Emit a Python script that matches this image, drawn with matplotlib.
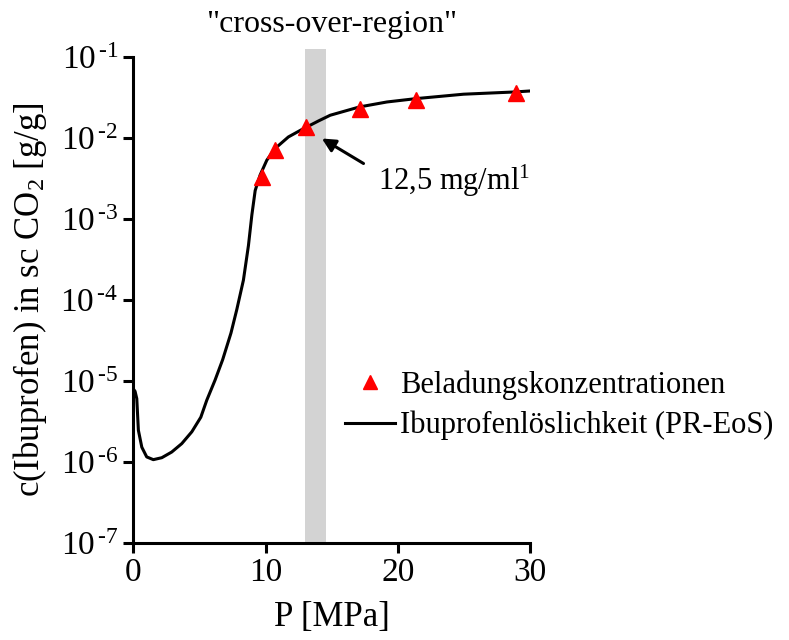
import numpy as np
import matplotlib.pyplot as plt
from matplotlib.ticker import FixedLocator, FuncFormatter

plt.rcParams['font.family'] = ['Liberation Serif', 'DejaVu Serif']
plt.rcParams['mathtext.fontset'] = 'custom'
plt.rcParams['mathtext.rm'] = 'Liberation Serif'
plt.rcParams['mathtext.it'] = 'Liberation Serif:italic'

p_meas = [9.7, 10.7, 13.05, 17.1, 21.4, 28.9]
c_meas = [3.3e-3, 7.1e-3, 1.37e-2, 2.26e-2, 2.92e-2, 3.63e-2]

# PR-EoS solubility curve, log10 of c
p_eos = [0.0, 0.13, 0.26, 0.38, 0.64, 1.01, 1.51, 2.15, 2.90, 3.66, 4.42,
         5.1, 5.55, 6.18, 6.75, 7.38, 7.82, 8.32, 8.70, 8.96, 9.21, 9.58,
         10.09, 10.72, 11.72, 12.74, 14.0, 14.88, 17.1, 19.17, 21.4, 24.96,
         28.87, 30.0]
log_c_eos = [-5.10, -5.13, -5.22, -5.61, -5.82, -5.94, -5.974, -5.95, -5.88,
             -5.776, -5.63, -5.45, -5.24, -4.99, -4.74, -4.41, -4.12, -3.757,
             -3.33, -2.95, -2.65, -2.46, -2.275, -2.13, -1.988, -1.896,
             -1.79, -1.72, -1.617, -1.556, -1.514, -1.46, -1.432, -1.42]

band = (13.0, 14.6)

fig = plt.figure(figsize=(7.89, 6.4), dpi=100)
ax = fig.add_axes([0.169, 0.152, 0.503, 0.759])

ax.axvspan(band[0], band[1], ymin=0, ymax=1.016, color='#d3d3d3', lw=0,
           clip_on=False, zorder=0)

pe = np.array(p_eos)
ce = 10 ** np.array(log_c_eos)
ax.plot(pe, ce, color='black', lw=2.2, label='Ibuprofenlöslichkeit (PR-EoS)',
        zorder=2, solid_joinstyle='round')
ax.plot(p_meas, c_meas, linestyle='none', marker='^', ms=12, color='#ff0000',
        label='Beladungskonzentrationen', zorder=3)

ax.set_yscale('log')
ax.set_xlim(0, 30)
ax.set_ylim(1e-7, 1e-1)
ax.set_xticks([0, 10, 20, 30])
ax.yaxis.set_major_locator(FixedLocator([10.0 ** k for k in range(-7, 0)]))
ax.yaxis.set_minor_locator(FixedLocator([]))
ax.yaxis.set_major_formatter(FuncFormatter(
    lambda v, pos: r'$\mathregular{10^{\,\text{-}%d}}$' % round(-np.log10(v))))

for s in ['top', 'right']:
    ax.spines[s].set_visible(False)
for s in ['left', 'bottom']:
    ax.spines[s].set_linewidth(2.2)
ax.tick_params(axis='both', which='major', length=7, width=2.2,
               labelsize=24, direction='out', pad=4)

ax.set_xlabel('P [MPa]', fontsize=25, labelpad=9)
ax.set_ylabel(r'c(Ibuprofen) in sc CO$_2$ [g/g]', fontsize=25)
ax.yaxis.set_label_coords(-0.213, 0.5)
ax.set_title('"cross-over-region"', fontsize=23, pad=18)

# arrow + note
ax.annotate('', xy=(14.25, 9.84e-3), xytext=(17.4, 4.83e-3),
            arrowprops=dict(arrowstyle='-|>', color='black', lw=2.2,
                            mutation_scale=20, shrinkA=0, shrinkB=0))
ax.text(18.5, 2.26e-3, r'12,5 mg/ml$^{1}$', fontsize=22, ha='left',
        va='baseline')

handles, labels = ax.get_legend_handles_labels()
ax.legend(handles[::-1], labels[::-1], loc='upper left',
          bbox_to_anchor=(0.534, 0.355), frameon=False, fontsize=22,
          handlelength=1.63, handletextpad=0.17, labelspacing=0.36,
          borderaxespad=0, borderpad=0, markerscale=0.85)

fig.savefig('out.png', dpi=100)
